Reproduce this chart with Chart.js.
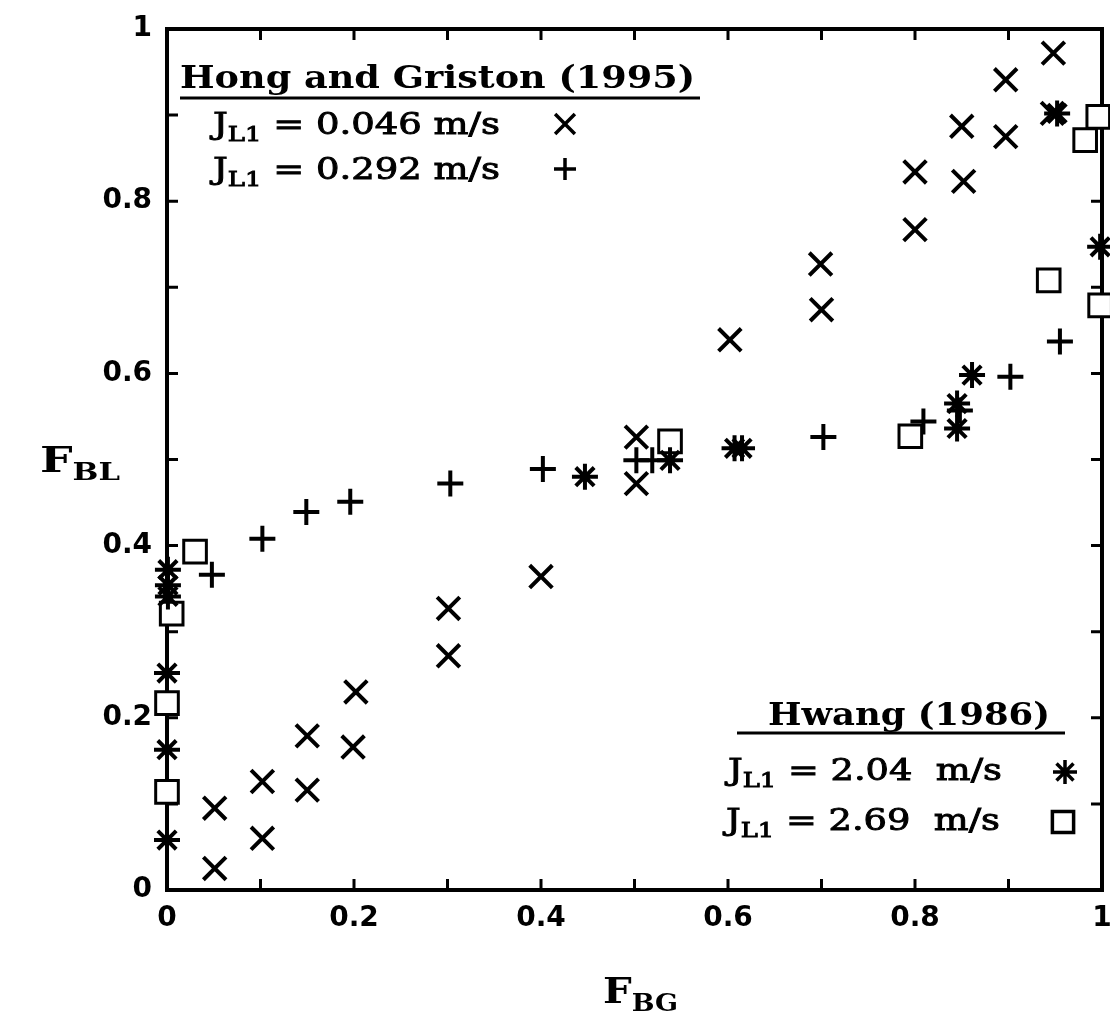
<!DOCTYPE html>
<html>
<head>
<meta charset="utf-8">
<title>F_BL vs F_BG</title>
<script src="https://cdn.jsdelivr.net/npm/chart.js@4.4.1/dist/chart.umd.min.js"></script>
<style>
  html, body { margin: 0; padding: 0; background: #fff; }
  #wrap { width: 1110px; height: 1015px; }
</style>
</head>
<body>
<div id="wrap"><canvas id="fbChart" width="1110" height="1015"></canvas></div>
<script>
// Hong and Griston (1995), J_L1 = 0.046 m/s  (x marks)
const hg046X = [0.051, 0.051, 0.102, 0.102, 0.150, 0.150, 0.199, 0.202, 0.301, 0.301, 0.400, 0.502,
                0.502, 0.602, 0.700, 0.699, 0.800, 0.800, 0.852, 0.850, 0.897, 0.897, 0.948, 0.947];
const hg046Y = [0.025, 0.095, 0.060, 0.126, 0.116, 0.179, 0.166, 0.230, 0.272, 0.327, 0.364, 0.472,
                0.526, 0.639, 0.674, 0.727, 0.767, 0.834, 0.823, 0.887, 0.875, 0.941, 0.972, 0.902];

// Hong and Griston (1995), J_L1 = 0.292 m/s  (+ marks)
const hg292X = [0.048, 0.102, 0.149, 0.196, 0.303, 0.402, 0.502, 0.519, 0.702, 0.809, 0.848, 0.902, 0.955];
const hg292Y = [0.366, 0.408, 0.439, 0.451, 0.472, 0.489, 0.499, 0.499, 0.526, 0.544, 0.557, 0.596, 0.637];

// Hwang (1986), J_L1 = 2.04 m/s  (asterisks)
const hw204X = [0.0, 0.0, 0.0, 0.001, 0.001, 0.001, 0.447, 0.538, 0.615, 0.607, 0.845, 0.845, 0.861, 0.952, 0.998];
const hw204Y = [0.058, 0.163, 0.252, 0.341, 0.354, 0.372, 0.480, 0.499, 0.513, 0.513, 0.536, 0.565, 0.598, 0.902, 0.747];

// Hwang (1986), J_L1 = 2.69 m/s  (open squares)
const hw269X = [0.0, 0.0, 0.005, 0.030, 0.538, 0.795, 0.943, 0.982, 0.996, 0.998];
const hw269Y = [0.114, 0.217, 0.321, 0.393, 0.521, 0.527, 0.708, 0.871, 0.898, 0.679];

const xTickLabels = ['0', '0.2', '0.4', '0.6', '0.8', '1'];
const yTickLabels = ['0', '0.2', '0.4', '0.6', '0.8', '1'];

const toPoints = (xs, ys) => xs.map((x, i) => ({ x: x, y: ys[i] }));

const tickFont = { family: 'DejaVu Sans', size: 28, weight: 'bold' };

// white page behind the chart
const whiteBg = {
  id: 'whiteBg',
  beforeDraw(chart) {
    const ctx = chart.ctx;
    ctx.save();
    ctx.fillStyle = '#fff';
    ctx.fillRect(0, 0, chart.width, chart.height);
    ctx.restore();
  }
};

// box frame with inward ticks every 0.1 on all four sides
const frameTicks = {
  id: 'frameTicks',
  beforeDatasetsDraw(chart) {
    const { ctx, chartArea: a, scales } = chart;
    ctx.save();
    ctx.strokeStyle = '#000';
    ctx.lineWidth = 4;
    ctx.strokeRect(a.left, a.top, a.right - a.left, a.bottom - a.top);
    ctx.lineWidth = 3;
    const len = 11;
    ctx.beginPath();
    for (let i = 1; i < 10; i++) {
      const px = scales.x.getPixelForValue(i / 10);
      ctx.moveTo(px, a.bottom); ctx.lineTo(px, a.bottom - len);
      ctx.moveTo(px, a.top); ctx.lineTo(px, a.top + len);
      const py = scales.y.getPixelForValue(i / 10);
      ctx.moveTo(a.left, py); ctx.lineTo(a.left + len, py);
      ctx.moveTo(a.right, py); ctx.lineTo(a.right - len, py);
    }
    ctx.stroke();
    ctx.restore();
  }
};

// draw a run of text pieces (with subscripts), stretched to a given width
function drawRun(ctx, parts, x, y, width, thicken) {
  let natural = 0;
  parts.forEach(p => { ctx.font = p.font; natural += ctx.measureText(p.t).width; });
  ctx.save();
  ctx.translate(x, y);
  ctx.scale(width / natural, 1);
  ctx.lineWidth = thicken || 0;
  let cx = 0;
  parts.forEach(p => {
    ctx.font = p.font;
    ctx.fillText(p.t, cx, p.dy || 0);
    if (thicken) ctx.strokeText(p.t, cx, p.dy || 0);
    cx += ctx.measureText(p.t).width;
  });
  ctx.restore();
}

const serif = '"DejaVu Serif"';
const bigFont = '30px ' + serif;
const subFont = '21px ' + serif;
const headFont = 'bold 32px ' + serif;

function jLine(value) {
  return [
    { t: 'J', font: bigFont },
    { t: 'L1', font: subFont, dy: 7 },
    { t: ' = ' + value, font: bigFont }
  ];
}

function legendMark(ctx, style, radius, x, y) {
  ctx.save();
  ctx.strokeStyle = '#000';
  ctx.fillStyle = '#fff';
  ctx.lineWidth = 3.5;
  Chart.helpers.drawPoint(ctx, { pointStyle: style, radius: radius, borderWidth: 3.5, rotation: 0 }, x, y);
  ctx.restore();
}

const annotations = {
  id: 'annotations',
  afterDraw(chart) {
    const ctx = chart.ctx;
    ctx.save();
    ctx.fillStyle = '#000';
    ctx.strokeStyle = '#000';
    ctx.textBaseline = 'alphabetic';

    // Hong and Griston block
    drawRun(ctx, [{ t: 'Hong and Griston (1995)', font: headFont }], 180, 88, 515);
    ctx.lineWidth = 3;
    ctx.beginPath(); ctx.moveTo(180, 98); ctx.lineTo(700, 98); ctx.stroke();
    drawRun(ctx, jLine('0.046 m/s'), 213, 134, 287, 0.9);
    drawRun(ctx, jLine('0.292 m/s'), 213, 179, 287, 0.9);
    legendMark(ctx, 'crossRot', 14, 565, 124);
    legendMark(ctx, 'cross', 11, 565, 169);

    // Hwang block
    drawRun(ctx, [{ t: 'Hwang (1986)', font: headFont }], 768, 725, 282);
    ctx.lineWidth = 3;
    ctx.beginPath(); ctx.moveTo(737, 733); ctx.lineTo(1065, 733); ctx.stroke();
    drawRun(ctx, jLine('2.04  m/s'), 728, 780, 274, 0.9);
    drawRun(ctx, jLine('2.69  m/s'), 726, 830, 274, 0.9);
    legendMark(ctx, 'star', 12, 1065, 772);
    legendMark(ctx, 'rect', 15, 1063, 822);

    // axis titles
    const titleFont = 'bold 36px ' + serif;
    const titleSub = 'bold 24px ' + serif;
    drawRun(ctx, [{ t: 'F', font: titleFont }, { t: 'BL', font: titleSub, dy: 8 }], 40, 472, 80);
    drawRun(ctx, [{ t: 'F', font: titleFont }, { t: 'BG', font: titleSub, dy: 8 }], 603, 1003, 75);
    ctx.restore();
  }
};

const pointBase = {
  showLine: false,
  clip: false,
  pointBorderColor: '#000',
  pointBackgroundColor: '#fff',
  pointBorderWidth: 4,
  pointHoverRadius: 0
};

const ctx = document.getElementById('fbChart').getContext('2d');
const fbChart = new Chart(ctx, {
  type: 'scatter',
  data: {
    datasets: [
      Object.assign({ label: 'J_L1 = 0.046 m/s', data: toPoints(hg046X, hg046Y), pointStyle: 'crossRot', pointRadius: 16 }, pointBase),
      Object.assign({ label: 'J_L1 = 0.292 m/s', data: toPoints(hg292X, hg292Y), pointStyle: 'cross', pointRadius: 13 }, pointBase),
      Object.assign({ label: 'J_L1 = 2.04 m/s', data: toPoints(hw204X, hw204Y), pointStyle: 'star', pointRadius: 13 }, pointBase),
      Object.assign({ label: 'J_L1 = 2.69 m/s', data: toPoints(hw269X, hw269Y), pointStyle: 'rect', pointRadius: 16 }, pointBase, { pointBorderWidth: 3 })
    ]
  },
  options: {
    responsive: false,
    animation: false,
    events: [],
    layout: { autoPadding: false, padding: { top: 29, right: 8, left: 0, bottom: 0 } },
    plugins: {
      legend: { display: false },
      tooltip: { enabled: false }
    },
    scales: {
      x: {
        type: 'linear',
        min: 0,
        max: 1,
        grid: { display: false, drawTicks: false },
        border: { display: false },
        ticks: {
          stepSize: 0.2,
          autoSkip: false,
          maxRotation: 0,
          padding: 12,
          color: '#000',
          font: tickFont,
          callback: (value, index) => xTickLabels[index]
        },
        afterFit(scale) {
          scale.height = 125;
          scale.paddingLeft = 0;
          scale.paddingRight = 0;
        }
      },
      y: {
        type: 'linear',
        min: 0,
        max: 1,
        grid: { display: false, drawTicks: false },
        border: { display: false },
        ticks: {
          stepSize: 0.2,
          autoSkip: false,
          padding: 15,
          color: '#000',
          font: tickFont,
          callback: (value, index) => yTickLabels[index]
        },
        afterFit(scale) {
          scale.width = 167;
          scale.paddingTop = 0;
          scale.paddingBottom = 0;
        }
      }
    }
  },
  plugins: [whiteBg, frameTicks, annotations]
});
</script>
</body>
</html>
